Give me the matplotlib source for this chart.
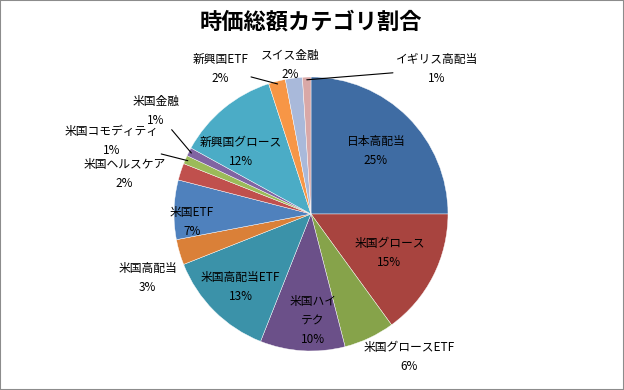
import matplotlib
matplotlib.use('Agg')
import matplotlib.pyplot as plt
from matplotlib.patches import Rectangle
import numpy as np

# Japanese font with fallback
plt.rcParams['font.family'] = ['Noto Sans CJK JP', 'DejaVu Sans']

# Data (percent of total market value)
categories = ['日本高配当', '米国グロース', '米国グロースETF', '米国ハイテク', '米国高配当ETF',
              '米国高配当', '米国ETF', '米国ヘルスケア', '米国コモディティ', '米国金融',
              '新興国グロース', '新興国ETF', 'スイス金融', 'イギリス高配当']
shares = [25, 15, 6, 10, 13, 3, 7, 2, 1, 1, 12, 2, 2, 1]
label_text = ['日本高配当', '米国グロース', '米国グロースETF', '米国ハイ\nテク', '米国高配当ETF',
              '米国高配当', '米国ETF', '米国ヘルスケア', '米国コモディティ', '米国金融',
              '新興国グロース', '新興国ETF', 'スイス金融', 'イギリス高配当']

colors = ['#3F6CA3', '#A8443F', '#86A34A', '#6B5089', '#3B92A9',
          '#DA8038', '#4F81BD', '#C0504D', '#9BBB59', '#8064A2',
          '#4BACC6', '#F79646', '#A9B9DA', '#D9A8A7']

# label placement: (angle in degrees, radius as fraction of pie radius)
label_pos = [(44, 0.66), (-26.6, 0.64), (-55.5, 1.27), (-89, 0.78), (-134, 0.74),
             (201.3, 1.28), (184, 0.87), (168, 1.39), (160, 1.55), (146.4, 1.36),
             (138.5, 0.68), (122, 1.25), (98, 1.10), (49, 1.40)]
leader = {'米国コモディティ', '米国金融', '新興国ETF', 'イギリス高配当'}

fig = plt.figure(figsize=(6.24, 3.90), dpi=100)
fig.patch.set_facecolor('white')

cx, cy, rad = 311, 214, 137
ax = fig.add_axes([(cx - rad) / 624, (390 - cy - rad) / 390, 2 * rad / 624, 2 * rad / 390])

wedges, _ = ax.pie(shares, colors=colors, startangle=90, counterclock=False,
                   wedgeprops=dict(edgecolor='white', linewidth=0.3))
ax.set_xlim(-1, 1)
ax.set_ylim(-1, 1)
ax.set_aspect('equal')
ax.axis('off')

for w, name, txt, (ang, r), s in zip(wedges, categories, label_text, label_pos, shares):
    tx, ty = r * np.cos(np.radians(ang)), r * np.sin(np.radians(ang))
    s_txt = f'{txt}\n{s}%'
    if name in leader:
        mid = np.radians((w.theta1 + w.theta2) / 2)
        ax.annotate(s_txt, xy=(0.98 * np.cos(mid), 0.98 * np.sin(mid)), xytext=(tx, ty),
                    ha='center', va='center', fontsize=8.5, multialignment='center',
                    linespacing=1.6, annotation_clip=False,
                    arrowprops=dict(arrowstyle='-', color='black', lw=0.8,
                                    shrinkA=0, shrinkB=0))
    else:
        ax.text(tx, ty, s_txt, ha='center', va='center', fontsize=8.5,
                multialignment='center', linespacing=1.6, clip_on=False)

fig.text(311 / 624, 1 - 22 / 390, '時価総額カテゴリ割合', ha='center', va='center',
         fontsize=16, fontweight='bold')

fig.patches.append(Rectangle((0, 0), 1, 1, transform=fig.transFigure, fill=False,
                             edgecolor='#8c8c8c', linewidth=1.5))

fig.savefig('out.png', dpi=100, facecolor='white')
